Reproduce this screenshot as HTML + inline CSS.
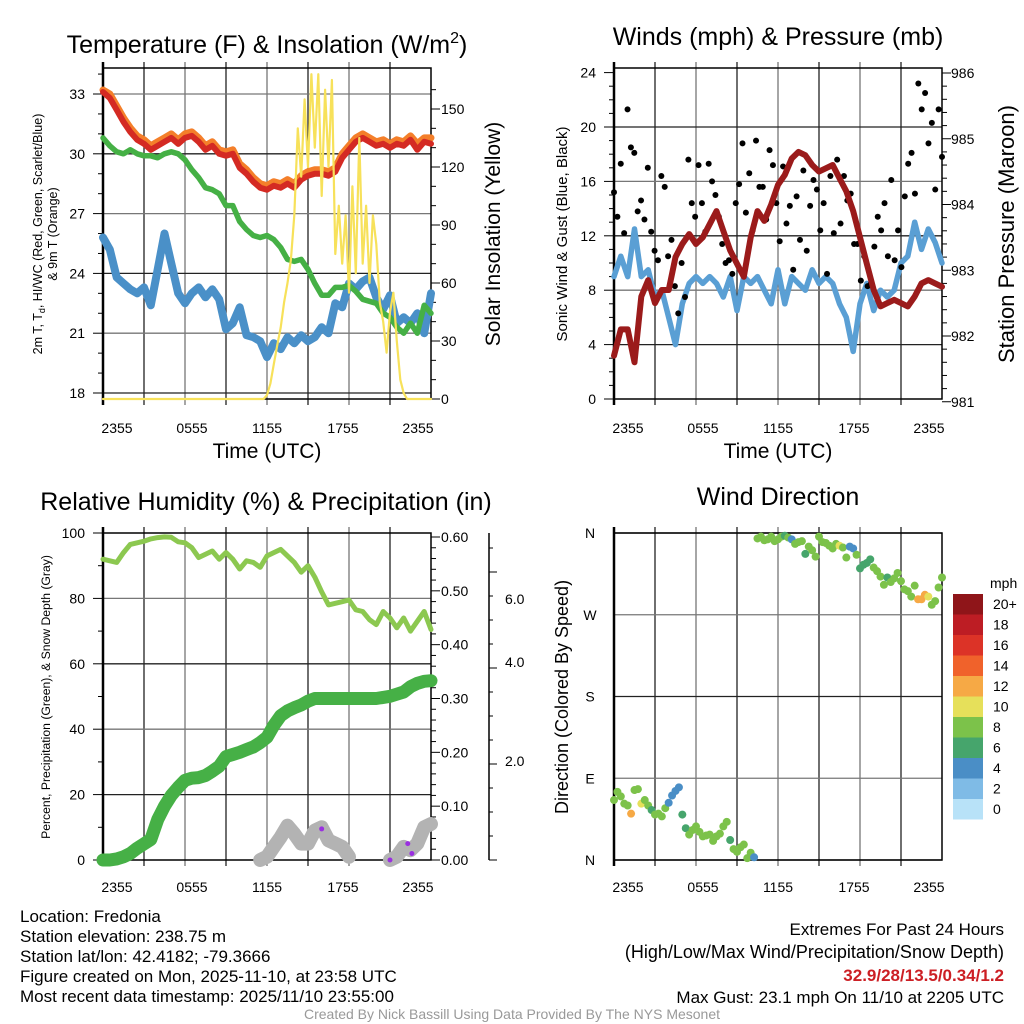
<!DOCTYPE html>
<html><head><meta charset="utf-8"><style>
html,body{margin:0;padding:0;background:#fff;}
svg{display:block;font-family:"Liberation Sans",Arial,sans-serif;}
</style></head><body>
<svg id="s" width="1024" height="1024" viewBox="0 0 1024 1024" xmlns="http://www.w3.org/2000/svg">
<rect width="1024" height="1024" fill="#fff"/>
<g font-size="25" text-anchor="middle" fill="#000">
<text x="267" y="53">Temperature (F) &amp; Insolation (W/m<tspan font-size="16" dy="-10">2</tspan><tspan dy="10">)</tspan></text>
<text x="778" y="45">Winds (mph) &amp; Pressure (mb)</text>
<text x="266" y="510">Relative Humidity (%) &amp; Precipitation (in)</text>
<text x="778" y="505">Wind Direction</text>
</g>
<g font-size="21" text-anchor="middle">
<text x="267" y="458">Time (UTC)</text>
<text x="778" y="458">Time (UTC)</text>
<text transform="translate(500,234) rotate(-90)">Solar Insolation (Yellow)</text>
<text transform="translate(1014,234) rotate(-90)" font-size="22">Station Pressure (Maroon)</text>
</g>
<g font-size="12.5" text-anchor="middle">
<text transform="translate(42,234) rotate(-90)">2m T, T<tspan font-size="9" dy="3">d</tspan><tspan dy="-3">, HI/WC (Red, Green, Scarlet/Blue)</tspan></text>
<text transform="translate(57,234) rotate(-90)">&amp; 9m T (Orange)</text>
<text transform="translate(50,697) rotate(-90)" font-size="12.2">Percent, Precipitation (Green), &amp; Snow Depth (Gray)</text>
</g>
<g text-anchor="middle">
<text transform="translate(567,234) rotate(-90)" font-size="15">Sonic Wind &amp; Gust (Blue, Black)</text>
<text transform="translate(568,697) rotate(-90)" font-size="18">Direction (Colored By Speed)</text>
</g>
<g font-size="17">
<text x="20" y="922">Location: Fredonia</text>
<text x="20" y="942">Station elevation: 238.75 m</text>
<text x="20" y="962">Station lat/lon: 42.4182; -79.3666</text>
<text x="20" y="982">Figure created on Mon, 2025-11-10, at 23:58 UTC</text>
<text x="20" y="1002">Most recent data timestamp: 2025/11/10 23:55:00</text>
<g text-anchor="end">
<text x="1004" y="935">Extremes For Past 24 Hours</text>
<text x="1004" y="958" font-size="18">(High/Low/Max Wind/Precipitation/Snow Depth)</text>
<text x="1004" y="981" fill="#cc1f24" font-weight="bold">32.9/28/13.5/0.34/1.2</text>
<text x="1004" y="1003">Max Gust: 23.1 mph On 11/10 at 2205 UTC</text>
</g>
</g>
<text x="512" y="1019" font-size="14" fill="#999" text-anchor="middle">Created By Nick Bassill Using Data Provided By The NYS Mesonet</text>
</svg>
<script>
// ---------- data ----------
const xTickLabels = ["2355","0555","1155","1755","2355"];
const tempTicks = [18,21,24,27,30,33];
const insolTicks = [0,30,60,90,120,150];
const windTicks = [0,4,8,12,16,20,24];
const presTicks = [981,982,983,984,985,986];
const rhTicks = [0,20,40,60,80,100];
const precipTicks = ["0.00","0.10","0.20","0.30","0.40","0.50","0.60"];
const snowTickLabels = ["2.0","4.0","6.0"];
const dirLabels = ["N","E","S","W","N"];
const speedBins = ["0","2","4","6","8","10","12","14","16","18","20+"];

const temp2m = [33.1,32.8,32.2,31.6,31.1,30.7,30.5,30.2,30.4,30.6,30.8,30.5,30.8,30.9,30.6,30.2,30.4,30.0,29.9,30.0,29.3,29.0,28.6,28.3,28.2,28.4,28.3,28.5,28.3,28.7,28.9,29.0,29.0,28.9,29.1,29.8,30.2,30.6,30.8,30.6,30.4,30.5,30.3,30.5,30.4,30.7,30.2,30.6,30.5];
const temp9m = [33.2,33.0,32.4,31.8,31.3,30.9,30.7,30.4,30.6,30.8,31.0,30.7,31.0,31.1,30.8,30.4,30.6,30.2,30.1,30.2,29.5,29.2,28.8,28.5,28.4,28.6,28.5,28.7,28.5,28.9,29.1,29.2,29.2,29.1,29.3,30.0,30.4,30.8,31.0,30.8,30.6,30.7,30.5,30.7,30.6,30.9,30.5,30.8,30.8];
const dewpoint = [30.8,30.4,30.1,30.0,30.2,30.0,29.9,29.9,29.8,30.0,30.1,30.0,29.7,29.2,28.8,28.3,28.2,28.0,27.4,27.4,26.6,26.2,25.9,25.8,25.9,25.7,25.3,24.7,24.6,24.7,24.2,23.5,22.9,22.9,23.3,23.3,23.4,23.1,22.7,22.6,22.5,22.0,21.8,21.3,21.0,21.5,21.0,22.4,22.0];
const windChill = [25.8,25.2,23.8,23.5,23.2,23.0,23.3,22.4,24.2,26.0,24.5,23.0,22.5,23.0,23.3,22.8,23.2,22.7,21.2,21.5,22.3,20.9,20.8,20.6,19.8,20.5,20.2,20.8,20.5,20.9,20.6,20.8,21.3,21.0,22.5,22.3,23.5,23.2,23.6,23.8,22.8,22.2,22.9,21.5,21.8,21.5,22.0,21.0,23.0];
const insolation = [0,0,0,0,0,0,0,0,0,0,0,0,0,0,0,0,0,0,0,0,0,0,0,0,0,0,0,0,0,0,0,0,0,0,0,0,0,0,0,0,0,0,0,0,0,0,0,0,2,8,18,28,37,50,60,72,95,140,115,155,120,168,130,168,105,160,120,165,75,100,70,95,55,110,65,135,70,100,60,95,80,50,40,24,45,55,30,10,3,0,0,0,0,0,0,0,0];

const sonicWind = [9,10.5,9,12.5,9,9.5,7.5,8,6,4,7,8.5,9,8.5,9,8.5,7.5,9,6.5,9,8.5,9,8,7,9.5,7,9,8.5,8,9.5,8.5,9,8.5,7,6,3.5,7,8.5,6.5,8,7.5,8,10,10.5,13,11,12.5,11.5,10];
const gust = [15.2,13.4,17.3,12.2,21.3,18.5,18.1,13.8,14.6,13.2,17.0,12.3,10.9,10.2,16.4,15.6,10.5,11.7,8.3,6.3,10.0,7.5,17.6,14.4,13.4,17.2,14.4,12.3,17.3,16.0,15.0,13.4,11.4,10.0,10.2,9.2,14.4,15.8,18.8,13.7,16.6,12.4,19.0,15.6,15.6,13.2,18.3,17.2,14.4,11.6,17.1,12.9,14.2,9.5,14.9,11.7,16.8,10.9,14.2,16.1,15.4,12.4,14.4,9.2,16.4,12.2,17.6,12.9,16.4,14.6,15.1,11.4,11.4,8.7,10.5,8.3,8.5,11.2,13.4,12.4,14.4,10.5,16.1,10.2,12.4,9.7,14.9,17.3,18.1,15.1,23.2,21.3,22.5,18.8,20.3,15.4,21.3,17.8];
const pressure = [981.7,982.1,982.1,981.6,982.6,982.85,982.5,982.7,982.7,983.2,983.4,983.55,983.4,983.5,983.7,983.9,983.6,983.3,983.1,982.9,983.5,983.9,983.75,984.0,984.3,984.45,984.7,984.8,984.75,984.6,984.5,984.55,984.6,984.4,984.2,983.9,983.5,983.1,982.7,982.45,982.5,982.55,982.5,982.45,982.6,982.8,982.85,982.8,982.75];

const relHumidity = [92,91.5,91,94,96.5,97,97.5,98.2,98.6,98.8,98.7,97.3,97,95.5,92.5,93.5,94.5,92,94,92,89,91.5,91,89.5,93,94,95,93,91,88,90,86.5,82,78,78.5,79,79.5,76.5,76,73.5,72,76,74,71,74,70,73,76,70.5];
const precipIn = [0,0,0.002,0.006,0.012,0.022,0.03,0.038,0.075,0.1,0.12,0.135,0.148,0.152,0.153,0.157,0.165,0.174,0.192,0.196,0.2,0.205,0.21,0.218,0.228,0.25,0.268,0.277,0.283,0.288,0.295,0.3,0.3,0.3,0.3,0.3,0.3,0.3,0.3,0.3,0.3,0.302,0.304,0.308,0.312,0.322,0.328,0.332,0.333];
const snowDepth = [null,null,null,null,null,null,null,null,null,null,null,null,null,null,null,null,null,null,null,null,null,null,null,0,1,4,7,10.5,8,5,5,9,10,6,5,4,1,null,null,null,null,null,0,1,4,3,5,10,11];
const precipEventHours = [16.0,22.3,22.6,21.0];
const precipEventValues = [9.5,5,2,0];

const windDir = [66,75,70,62,60,51,77,78,62,66,60,55,50,51,48,57,63,71,76,80,50,35,28,33,37,31,26,27,28,21,26,29,37,42,22,12,9,14,17,2,8,3,354,356,352,353,356,351,353,356,357,355,353,348,350,351,337,345,341,334,356,350,349,346,343,348,346,344,333,345,343,336,321,325,327,331,322,318,312,303,311,306,310,316,307,298,296,290,302,287,287,292,290,281,285,300,311];
const windSpd = [8,9,8,9,9,12,9,8,10,8,8,6,8,9,9,8,5.5,4.5,4,4,6,6,9,8,8,8,8,8,8,9,8,8,8,8,6,8,9,8,8,8,8,4.5,9,9,8,8,8,8,9,8,6,8,4.5,8,9,9,6,8,8,8,8,8,8,8,8,9,10,9,8,4.5,4,8,6,6,6,6,8,8,8,8,6,8,8,8,9,8,8,9,9,12,12,12,11,9,9,9,8];

// ---------- helpers ----------
const S = document.getElementById('s');
const NS = 'http://www.w3.org/2000/svg';
function mk(tag, attrs, parent){const e=document.createElementNS(NS,tag);for(const k in attrs)e.setAttribute(k,attrs[k]);(parent||S).appendChild(e);return e;}
function lin(d0,d1,r0,r1){return v=>r0+(v-d0)*(r1-r0)/(d1-d0);}
function txt(x,y,s,size,anchor,name){const t=mk('text',{x:x,y:y,'font-size':size,'text-anchor':anchor});t.textContent=s;return t;}
function polyline(vals,xf,yf,color,w,name,parent){
  let segs=[],cur=[];
  vals.forEach((v,i)=>{if(v===null){if(cur.length)segs.push(cur);cur=[];}else cur.push(xf(i,vals.length).toFixed(1)+','+yf(v).toFixed(1));});
  if(cur.length)segs.push(cur);
  segs.forEach(sg=>{const p=mk('polyline',{points:sg.join(' '),fill:'none',stroke:color,'stroke-width':w,'stroke-linejoin':'round','stroke-linecap':'round'},parent);
    
    });
}
function frame(x0,x1,y0,y1,name,hGrid,vCount){
  const g=mk('g',{});
  
  
  for(let k=1;k<vCount;k++){const x=x0+(x1-x0)*k/vCount;const l=mk('line',{x1:x,x2:x,y1:y0-6,y2:y1+6,stroke:(k%2?'#222':'#777'),'stroke-width':1.3},g);
    
    }
  hGrid.forEach((y,k)=>{const l=mk('line',{x1:x0,x2:x1,y1:y,y2:y,stroke:(k%2?'#777':'#222'),'stroke-width':1.3},g);
    
    });
  const b=mk('rect',{x:x0,y:y0,width:x1-x0,height:y1-y0,fill:'none',stroke:'#000','stroke-width':1.5},g);
  
  
  const la=mk('line',{x1:x0,x2:x0,y1:y0-6,y2:y1+6,stroke:'#000','stroke-width':2.5},g);
  
  
  return g;
}
function tick(x1,y1,x2,y2,name){const l=mk('line',{x1:x1,y1:y1,x2:x2,y2:y2,stroke:'#000','stroke-width':1});}
const xLabelOffsets=[14,7,0,-6,-13];
function xLabels(x0,x1,y){xTickLabels.forEach((s,i)=>{const x=x0+(x1-x0)*i/4;txt(x+xLabelOffsets[i],y,s,14,'middle','x-tick-label');});}

// ---------- panel 1: temperature ----------
{
 const X0=103,X1=431,Y0=68,Y1=399;
 const yT=lin(18,33,393,94), yI=lin(0,150,399,109);
 const xi=(i,n)=>X0+(X1-X0)*i/(n-1);
 frame(X0,X1,Y0,Y1,'temp-plot-frame',tempTicks.map(yT),8);
 for(let v=18;v<=34;v++){const y=yT(v);if(y<Y0)continue;tick(X0,y,X0-(v%3===0?10:5),y,'temp-y-tick');}
 tempTicks.forEach(v=>txt(85,yT(v)+5,String(v),14,'end','temp-y-tick-label'));
 for(let v=0;v<=160;v+=10){const y=yI(v);if(y<Y0)continue;tick(X1,y,X1+(v%30===0?9:5),y,'insolation-y-tick');}
 insolTicks.forEach(v=>txt(441,yI(v)+5,String(v),14,'start','insolation-y-tick-label'));
 xLabels(X0,X1,433);
 const g=mk('g',{});
 
 
 polyline(windChill,xi,yT,'#4a90c8',8,'wind-chill-line',g);
 polyline(dewpoint,xi,yT,'#45b045',5.5,'dewpoint-line',g);
 polyline(temp9m,xi,yT,'#f47f2a',7,'temp-9m-line',g);
 polyline(temp2m,xi,yT,'#d42a23',6,'temp-2m-line',g);
 polyline(insolation,xi,yI,'#f7e15a',2.2,'insolation-line',g);
}
// ---------- panel 2: winds ----------
{
 const X0=614,X1=942,Y0=68,Y1=399;
 const yW=lin(0,24,399,72.6), yP=lin(982,986,336,73);
 const xi=(i,n)=>X0+(X1-X0)*i/(n-1);
 frame(X0,X1,Y0,Y1,'winds-plot-frame',windTicks.slice(1,6).map(yW),8);
 for(let v=0;v<=24;v++){const y=yW(v);tick(X0,y,X0-(v%4===0?10:5),y,'wind-y-tick');}
 windTicks.forEach(v=>txt(596,yW(v)+5,String(v),14,'end','wind-y-tick-label'));
 for(let v=981;v<=986.01;v+=0.2){const y=yP(v);if(y>Y1+5)continue;tick(X1,y,X1+(Math.abs(v-Math.round(v))<0.01?9:5),y,'pressure-y-tick');}
 presTicks.forEach(v=>txt(951,yP(v)+5,String(v),14,'start','pressure-y-tick-label'));
 xLabels(X0,X1,433);
 const g=mk('g',{});
 
 
 polyline(sonicWind,xi,yW,'#5a9fd4',5.5,'sonic-wind-line',g);
 gust.forEach((v,i)=>{const c=mk('circle',{cx:xi(i,gust.length),cy:yW(v),r:3,fill:'#000'},g);
   
   });
 polyline(pressure,xi,yP,'#9b1b1b',6,'pressure-line',g);
}
// ---------- panel 3: RH & precip ----------
{
 const X0=103,X1=431,Y0=533,Y1=860;
 const yR=lin(0,100,860,533), yPr=lin(0,0.6,860,537);
 const xi=(i,n)=>X0+(X1-X0)*i/(n-1);
 const xh=h=>X0+(X1-X0)*h/24;
 frame(X0,X1,Y0,Y1,'rh-plot-frame',rhTicks.slice(1,5).map(yR),8);
 for(let v=0;v<=100;v+=10){const y=yR(v);tick(X0,y,X0-(v%20===0?10:5),y,'rh-y-tick');}
 rhTicks.forEach(v=>txt(85,yR(v)+5,String(v),14,'end','rh-y-tick-label'));
 for(let k=0;k<=30;k++){const y=yPr(k*0.02);tick(X1,y,X1+(k%5===0?9:5),y,'precip-y-tick');}
 precipTicks.forEach(s=>txt(441,yPr(parseFloat(s))+5,s,14,'start','precip-y-tick-label'));
 const ax=mk('line',{x1:489,x2:489,y1:533,y2:860,stroke:'#000','stroke-width':1.5});
 
 
 for(let k=0;k<14;k++){const y=860-k*24;tick(489,y,489+(k%4===0?8:4),y,'snow-y-tick');}
 [761,662,599].forEach((y,k)=>txt(505,y+5,snowTickLabels[k],14,'start','snow-y-tick-label'));
 xLabels(X0,X1,892);
 const g=mk('g',{});
 
 
 polyline(relHumidity,xi,yR,'#8cc850',5,'relative-humidity-line',g);
 polyline(snowDepth,xi,yR,'#b3b3b3',14,'snow-depth-line',g);
 polyline(precipIn,xi,yPr,'#46b046',13,'precipitation-line',g);
 precipEventHours.forEach((h,i)=>{const c=mk('circle',{cx:xh(h),cy:yR(precipEventValues[i]),r:2.5,fill:'#9a30e0'},g);
   
   });
}
// ---------- panel 4: wind direction ----------
{
 const X0=614,X1=942,Y0=533,Y1=860;
 const yD=lin(0,360,860,533);
 const xi=(i,n)=>X0+(X1-X0)*i/(n-1);
 const colors=['#b8e2f8','#7fbbe6','#4a8ec6','#46a56c','#7cc24a','#e6e05a','#f6a945','#f0622b','#dc3327','#bd1d24','#8f1519'];
 const colorFor=s=>colors[Math.min(10,Math.floor(s/2))];
 frame(X0,X1,Y0,Y1,'direction-plot-frame',[0,90,180,270,360].map(yD),8);
 [0,1,2,3,4].forEach(k=>txt(590,yD(k*90)+5,dirLabels[k],14,'middle','direction-tick-label'));
 xLabels(X0,X1,892);
 const g=mk('g',{});
 
 
 windDir.forEach((d,i)=>{const c=mk('circle',{cx:xi(i,windDir.length),cy:yD(d),r:4,fill:colorFor(windSpd[i])},g);
   
   });
 const lg=mk('g',{});
 
 
 txt(990,588,'mph',14,'start','colorbar-title');
 speedBins.forEach((s,k)=>{const y=799-k*20.5;const r=mk('rect',{x:953,y:y,width:30,height:20.5,fill:colors[k]},lg);
   
   
   txt(993,y+15,s,14,'start','colorbar-label');});
}
</script>
</body></html>
